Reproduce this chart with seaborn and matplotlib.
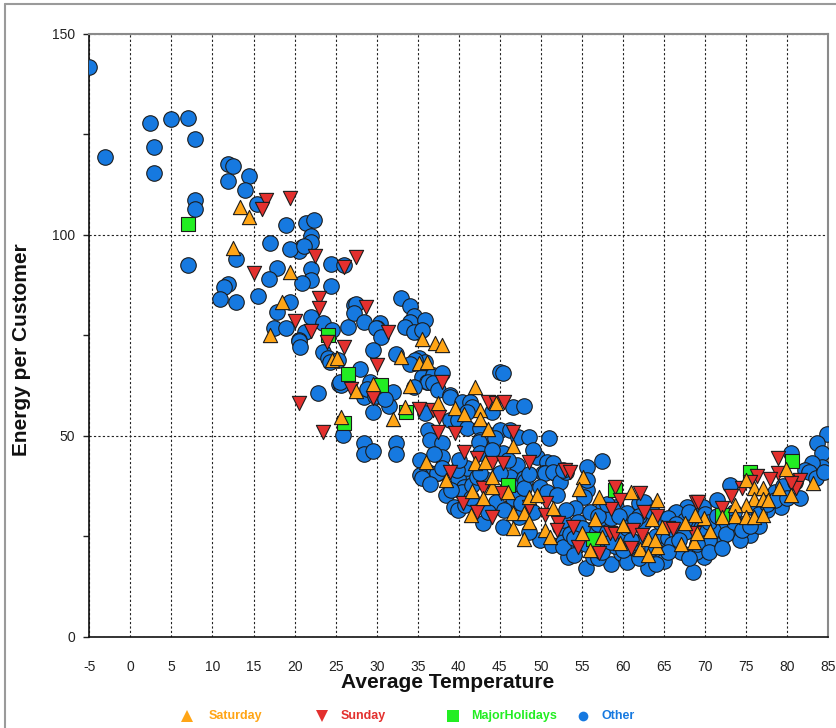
import numpy as np
import pandas as pd
import matplotlib
matplotlib.use("Agg")
import matplotlib.pyplot as plt
import seaborn as sns
from matplotlib.lines import Line2D
from matplotlib.ticker import MultipleLocator

# ---------------- data ----------------
categories = ["Saturday", "Sunday", "MajorHolidays", "Other"]

sat_x = [13.4, 14.5, 12.5, 19.4, 18.5, 17.0, 24.5, 25.2, 27.5, 29.5, 34.0, 33.0, 35.1, 35.5, 25.6, 32.0,
         33.4, 37.1, 38.0, 36.1, 42.0, 37.5, 39.5, 40.6, 42.6, 42.6, 43.5, 44.5, 46.6, 36.0, 42.0, 43.2,
         38.5, 41.6, 43.0, 44.0, 41.5, 44.0, 46.0, 46.6, 46.6, 47.9, 48.6, 49.5, 48.5, 47.9, 51.5, 50.5,
         51.1, 55.1, 54.6, 57.1, 61.0, 64.1, 56.6, 63.5, 55.0, 56.0, 57.5, 59.6, 60.0, 62.1, 63.1, 64.1,
         64.7, 67.0, 67.6, 68.6, 63.9, 63.1, 79.9, 83.1, 75.0, 76.0, 77.0, 79.0, 80.5, 76.0, 77.0, 77.6,
         75.0, 73.6, 72.0, 73.6, 75.0, 76.0, 77.0, 69.9, 68.8, 70.6, 69.0]
sat_y = [106.8, 104.5, 96.6, 90.8, 83.3, 75.0, 68.8, 69.3, 61.2, 62.9, 62.4, 69.5, 68.0, 74.1, 54.7, 54.1,
         57.2, 73.0, 72.6, 68.4, 62.2, 58.1, 56.8, 55.4, 56.4, 54.1, 51.6, 58.1, 47.4, 43.5, 43.3, 43.5,
         39.0, 36.3, 34.4, 37.3, 30.3, 39.8, 36.1, 30.7, 27.0, 30.7, 34.8, 35.2, 28.6, 24.2, 31.9, 26.5,
         24.7, 39.7, 36.7, 34.7, 36.1, 34.0, 29.2, 29.2, 25.7, 21.6, 24.7, 23.2, 27.8, 21.7, 24.2, 22.2,
         27.2, 23.1, 28.4, 23.6, 24.1, 20.3, 41.6, 38.2, 39.0, 36.9, 36.9, 36.9, 35.2, 34.2, 34.2, 34.0,
         32.8, 32.8, 29.9, 30.0, 29.9, 29.9, 30.3, 29.5, 30.3, 26.2, 25.7]

sun_x = [16.5, 16.0, 19.4, 22.5, 27.5, 26.0, 15.0, 23.0, 23.0, 20.0, 28.7, 31.4, 22.0, 24.0, 26.0, 30.0,
         26.9, 29.5, 35.1, 20.5, 23.5, 38.0, 36.9, 37.6, 43.5, 44.5, 45.5, 37.5, 39.5, 46.6, 40.6, 42.2,
         44.0, 45.4, 48.5, 38.9, 52.9, 40.5, 42.2, 44.0, 43.0, 45.1, 48.5, 50.6, 50.5, 52.1, 51.9, 53.5,
         59.0, 59.6, 62.1, 58.5, 62.5, 64.1, 68.9, 53.9, 54.5, 57.1, 58.4, 59.0, 61.0, 61.2, 62.3, 65.5,
         66.1, 68.6, 78.9, 81.6, 81.1, 80.4, 78.9, 77.9, 76.3, 75.5, 74.5, 73.2, 69.1, 72.1]
sun_y = [108.6, 106.3, 109.2, 94.7, 94.5, 92.0, 90.5, 84.3, 81.7, 78.5, 82.1, 75.9, 76.0, 73.4, 72.1, 67.6,
         61.5, 59.3, 56.6, 58.1, 51.0, 63.4, 56.4, 54.6, 58.5, 58.2, 58.5, 51.0, 50.6, 51.0, 46.0, 44.4,
         43.1, 43.1, 43.5, 41.0, 41.5, 33.3, 31.1, 29.7, 36.9, 35.8, 32.3, 33.2, 30.3, 28.2, 26.5, 41.0,
         37.3, 34.0, 35.7, 31.7, 31.1, 30.0, 33.6, 27.2, 22.2, 20.7, 25.9, 25.5, 22.0, 26.5, 25.3, 27.0,
         26.7, 25.7, 44.4, 39.0, 36.9, 38.2, 40.8, 39.2, 40.0, 38.6, 36.9, 35.0, 33.6, 31.9]

hol_x = [7.0, 24.1, 26.5, 30.5, 26.0, 33.6, 46.0, 59.0, 56.4, 80.6, 75.5, 72.0]
hol_y = [102.7, 75.0, 65.3, 62.6, 53.1, 56.0, 37.7, 36.5, 24.2, 43.8, 41.0, 30.3]

oth_x = [-5.0, -3.1, 2.4, 4.9, 7.0, 7.9, 2.9, 2.9, 7.9, 7.9, 7.0,
         11.9, 12.5, 14.4, 11.9, 14.0, 15.4,
         19.0, 21.4, 22.4, 22.0, 22.0, 20.9, 20.5, 19.4, 17.0, 21.1,
         12.9, 24.4, 26.0, 22.0, 17.9, 16.9, 22.0, 20.9, 24.4, 11.9, 11.4, 10.9, 12.9, 15.5, 19.4, 17.9,
         22.0, 23.5, 26.5, 27.2, 27.5, 27.2, 28.5, 30.4, 30.0, 33.0, 34.0, 34.5, 34.0, 33.5, 35.1, 17.5,
         19.0, 21.3, 20.5, 20.5, 20.7, 23.5, 24.5, 24.1, 29.9, 30.5, 34.5, 35.9, 35.5, 29.5, 32.4, 34.5,
         35.1, 35.9, 28.0, 25.4, 29.2, 28.5, 30.0, 32.0, 30.6, 31.5, 22.9, 35.5, 36.1,
         25.9, 28.5, 28.5, 29.5, 32.4, 32.4, 29.5, 28.8, 29.8, 31.0, 25.6, 25.5, 24.3, 25.3,
         34.7, 34.1, 45.0, 45.4, 36.9, 37.9, 36.3, 36.9, 37.5, 38.9, 34.5, 35.9, 38.9, 40.4, 41.4, 41.6,
         41.0, 38.9, 39.9, 41.0, 42.6, 42.6, 43.8, 44.0, 46.6, 47.9, 36.3, 36.5, 37.9, 45.0, 46.2, 47.2,
         48.5, 51.0, 42.5, 44.4, 38.0, 42.6, 45.4, 47.1, 49.5, 35.3, 50.7, 51.5, 36.3, 37.5, 41.4, 46.2,
         47.9, 50.3, 51.7,
         35.3, 37.3, 35.5, 39.9, 40.6, 40.4, 41.6, 41.0, 39.8, 38.5, 39.4, 39.9, 40.8, 43.0, 42.2, 43.6,
         42.6, 45.0, 46.8, 48.1, 45.4, 46.2, 47.3, 46.6, 47.6, 50.5, 51.5, 52.3, 53.1, 49.9, 50.7, 51.9,
         49.9, 51.3, 52.7, 53.1, 53.3, 52.3, 52.7,
         57.5, 55.6, 52.7, 55.6, 55.2, 54.2, 53.0, 55.6, 57.6, 59.2, 60.5, 61.9, 63.1, 66.3, 67.8, 52.7,
         54.0, 55.5, 58.5, 59.8, 63.0, 65.3, 66.5, 68.5, 57.6, 56.4, 61.0, 64.5, 69.9,
         84.8, 83.6, 84.2, 84.2, 83.0, 82.2, 80.4, 73.0, 71.4, 69.7, 73.4, 75.5, 74.2, 72.0, 71.4, 68.9,
         78.3, 79.3, 81.6, 82.6,
         53.5, 54.8, 56.0, 57.0, 58.0, 60.0, 61.5, 62.5, 64.0, 65.5, 66.5, 67.0, 65.0, 60.5, 57.0, 54.5,
         58.5, 62.0, 69.0, 70.5, 72.5, 74.5, 76.5, 77.5, 70.0, 67.5, 56.5, 59.0, 63.5, 66.0, 68.0, 71.0,
         73.5, 76.0, 78.5, 79.5, 81.0, 83.5, 84.5,
         55.0, 56.0, 57.0, 58.0, 59.5, 60.5, 61.5, 62.5, 63.5, 64.5, 65.5, 66.5, 67.5, 68.0, 69.5, 70.5,
         71.5, 72.5, 73.5, 74.5, 75.5, 76.5, 77.5, 78.5, 80.0, 54.0, 55.5, 57.5, 58.5, 60.0, 61.0, 62.0,
         64.0, 65.5, 66.8, 69.0, 70.5, 72.0, 48.5, 49.0, 48.0, 44.5, 45.5, 43.5, 41.5, 39.0, 38.0, 40.0,
         44.0, 46.0, 48.5, 49.0, 37.0, 36.5]
oth_y = [141.7, 119.3, 127.8, 128.8, 129.0, 123.8, 121.8, 115.4, 108.6, 106.3, 92.5,
         117.6, 117.2, 114.6, 113.3, 111.1, 107.6,
         102.3, 102.8, 103.7, 99.8, 98.1, 97.0, 96.0, 96.4, 97.9, 97.3,
         93.9, 92.7, 92.5, 91.5, 91.6, 88.9, 88.7, 87.9, 87.3, 87.7, 87.1, 84.1, 83.3, 84.7, 83.3, 80.8,
         79.5, 78.0, 77.0, 82.5, 82.8, 80.4, 78.4, 78.0, 76.7, 84.3, 82.3, 79.8, 78.4, 77.1, 75.9, 76.7,
         76.7, 75.7, 73.8, 73.5, 72.1, 70.9, 76.3, 69.3, 76.7, 74.6, 75.9, 78.8, 76.3, 71.3, 70.3, 68.0,
         69.3, 68.4, 66.6, 62.9, 63.4, 59.7, 60.5, 60.8, 59.7, 57.4, 60.5, 64.7, 63.4,
         50.2, 48.3, 45.4, 46.3, 48.3, 45.4, 56.0, 61.5, 59.9, 59.1, 62.6, 63.4, 68.4, 68.8,
         68.8, 67.8, 65.9, 65.7, 65.1, 65.7, 63.4, 63.0, 61.4, 60.1, 62.2, 55.7, 59.7, 58.5, 58.5, 57.2,
         56.0, 53.9, 53.9, 51.8, 51.8, 48.9, 50.1, 56.0, 57.2, 57.4, 51.4, 48.9, 48.1, 51.4, 51.4, 49.8,
         49.8, 49.4, 48.5, 49.4, 44.8, 45.6, 45.6, 42.7, 44.6, 44.0, 43.5, 43.1, 41.0, 40.6, 39.8, 39.8,
         39.4, 40.6, 40.6,
         40.2, 40.6, 39.4, 39.4, 37.3, 36.1, 37.7, 41.9, 41.5, 35.2, 32.3, 31.5, 32.8, 28.2, 39.8, 39.0,
         40.6, 40.6, 36.9, 38.8, 27.4, 32.3, 29.9, 34.4, 33.2, 40.6, 41.0, 38.6, 41.0, 37.3, 36.1, 35.2,
         24.1, 22.8, 23.6, 22.0, 19.9, 27.4, 29.0,
         43.8, 42.3, 41.5, 36.5, 34.8, 31.9, 31.5, 39.0, 32.3, 32.3, 30.7, 33.2, 32.3, 30.8, 32.3, 22.4,
         20.3, 17.0, 18.1, 20.7, 17.0, 22.4, 31.1, 16.2, 22.4, 19.9, 20.7, 20.7, 19.9,
         50.4, 48.1, 45.6, 42.3, 43.1, 41.5, 45.6, 37.7, 34.0, 32.3, 26.5, 25.3, 24.1, 24.9, 22.8, 21.1,
         33.6, 32.3, 34.4, 41.0,
         25.5, 24.0, 26.5, 28.0, 26.0, 24.5, 23.5, 28.5, 25.0, 24.5, 26.0, 21.0, 18.8, 18.5, 19.5, 28.5,
         29.5, 30.0, 28.0, 24.0, 27.5, 28.0, 27.5, 31.5, 30.5, 29.0, 23.0, 22.5, 22.0, 23.0, 19.5, 26.5,
         31.0, 32.0, 36.0, 37.5, 38.5, 39.5, 41.0,
         27.0, 31.0, 30.0, 33.0, 30.0, 27.0, 29.0, 33.5, 31.0, 28.5, 29.5, 28.0, 26.0, 31.0, 27.0, 28.5,
         30.0, 25.5, 28.5, 26.5, 27.5, 30.5, 33.0, 34.0, 34.5, 24.5, 23.0, 21.0, 23.5, 21.5, 24.0, 19.5,
         18.0, 21.0, 24.0, 23.0, 21.0, 22.0, 26.0, 31.0, 37.0, 33.5, 31.5, 31.0, 34.5, 36.5, 42.0, 44.0,
         46.5, 44.0, 40.5, 46.5, 45.5, 38.0]

x_ticks = list(range(-5, 90, 5))
y_ticks = [0, 50, 100, 150]

# colours
c_sat = "#FFA516"
c_sun = "#E3302E"
c_hol = "#22EE22"
c_oth = "#1679E0"
edge = "#1c1c1c"

df = pd.concat([
    pd.DataFrame({"Temperature": oth_x, "Energy": oth_y, "Day": "Other"}),
    pd.DataFrame({"Temperature": hol_x, "Energy": hol_y, "Day": "MajorHolidays"}),
    pd.DataFrame({"Temperature": sun_x, "Energy": sun_y, "Day": "Sunday"}),
    pd.DataFrame({"Temperature": sat_x, "Energy": sat_y, "Day": "Saturday"}),
], ignore_index=True)

sns.set_theme(style="white")
plt.rcParams["font.family"] = ["Liberation Sans", "DejaVu Sans"]

W, H = 836, 728
fig = plt.figure(figsize=(W / 100, H / 100), dpi=100)
ax = fig.add_axes([89.3 / W, 91.3 / H, 739 / W, 603 / H])

styles = {
    "Other": ("o", c_oth, 125),
    "MajorHolidays": ("s", c_hol, 95),
    "Sunday": ("v", c_sun, 105),
    "Saturday": ("^", c_sat, 105),
}
for i, day in enumerate(["Other", "MajorHolidays", "Sunday", "Saturday"]):
    m, c, s = styles[day]
    sns.scatterplot(data=df[df["Day"] == day], x="Temperature", y="Energy", marker=m,
                    color=c, s=s, edgecolor=edge, linewidth=0.8, ax=ax, legend=False,
                    zorder=3 + i)

ax.set_xlim(-5, 85)
ax.set_ylim(0, 150)
ax.set_xticks(x_ticks)
ax.set_xticklabels([str(t) for t in x_ticks])
ax.set_yticks(y_ticks)
ax.yaxis.set_minor_locator(MultipleLocator(25))
ax.tick_params(axis="x", length=0, pad=17, labelsize=10, labelcolor="#222222")
ax.tick_params(axis="y", which="both", length=4, width=1, color="#222222", direction="out",
               pad=6, labelsize=10, labelcolor="#222222", left=True)
ax.set_xlabel("")
ax.set_ylabel("")

ax.set_axisbelow(True)
ax.grid(True, which="major", linestyle=(0, (2, 2)), color="#222222", linewidth=0.8)

for side in ["left", "bottom"]:
    ax.spines[side].set_color("#111111")
    ax.spines[side].set_linewidth(1.2)
for side in ["top", "right"]:
    ax.spines[side].set_color("#8a8a8a")
    ax.spines[side].set_linewidth(1.5)

fig.text(448 / W, 1 - 683 / H, "Average Temperature", ha="center", va="center",
         fontsize=15, fontweight="bold", color="#111111")
fig.text(22 / W, 1 - 350 / H, "Energy per Customer", ha="center", va="center",
         rotation=90, fontsize=15, fontweight="bold", color="#111111")

# outer frame of the picture
fig.add_artist(Line2D([5 / W, 5 / W], [0, 1 - 4 / H], transform=fig.transFigure,
                      color="#9a9a9a", linewidth=1.5))
fig.add_artist(Line2D([5 / W, 1], [1 - 4 / H, 1 - 4 / H], transform=fig.transFigure,
                      color="#9a9a9a", linewidth=1.5))

# legend at the bottom
leg_y = 1 - 716 / H
leg_items = [("Saturday", "^", c_sat, 186.7, 209), ("Sunday", "v", c_sun, 321.7, 340.7),
             ("MajorHolidays", "s", c_hol, 453, 470.7), ("Other", "o", c_oth, 583, 601.7)]
for label, m, c, mx, tx in leg_items:
    fig.add_artist(Line2D([mx / W], [leg_y], transform=fig.transFigure, marker=m,
                          markersize=8 if m != "o" else 7, color=c, markeredgewidth=0,
                          linestyle="none"))
    fig.text(tx / W, leg_y, label, ha="left", va="center", fontsize=9,
             fontweight="bold", color=c)

fig.savefig("out.png", dpi=100)
